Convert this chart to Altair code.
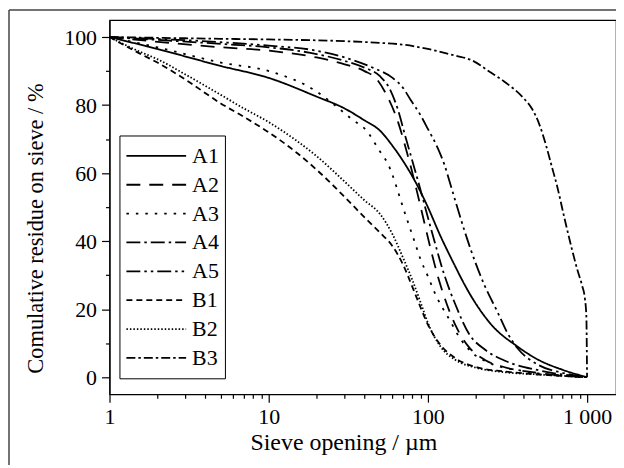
import altair as alt
import pandas as pd

# ---- data (sieve opening in µm, cumulative residue %) ----
A1_x = [1, 2, 5, 10, 20, 30, 40, 50, 60, 70, 80, 90, 100, 120, 140, 186, 250, 366, 500, 700, 1000]
A1_y = [100, 96.5, 91.5, 88, 82.5, 79, 75.5, 72.5, 68, 63.5, 59, 54.5, 50, 41.5, 35, 24, 15.5, 9, 5, 2.2, 0]

A2_x = [1, 5, 10, 20, 30, 40, 48, 55, 65, 72, 78, 85, 95, 105, 115, 125, 150, 180, 230, 300, 500, 1000]
A2_y = [100, 97, 96, 94, 92, 90, 87.5, 83, 75, 68, 62, 55, 45.5, 37, 30, 24.5, 15, 9, 5, 3, 1.2, 0]

A3_x = [1, 2, 5, 10, 20, 26, 33, 42, 49, 56, 72, 83, 90, 100, 110, 139, 160, 186, 250, 400, 1000]
A3_y = [100, 97, 92.5, 90, 84, 80, 76, 72, 67, 62.8, 48, 39.5, 34.6, 29.7, 25, 16.3, 11.3, 7.6, 4, 1.8, 0]

A4_x = [1, 5, 10, 20, 30, 40, 50, 58, 65, 72, 80, 90, 100, 110, 125, 150, 180, 230, 300, 500, 1000]
A4_y = [100, 98, 97, 95, 93, 91, 88.5, 84.5, 78.5, 71, 63.5, 55, 47, 40, 31, 21, 13, 8, 5, 2, 0]

A5_x = [1, 5, 10, 20, 30, 45, 60, 70, 78, 90, 100, 115, 127, 140, 154, 170, 186, 227, 275, 316, 366, 500, 700, 1000]
A5_y = [100, 98.5, 97.5, 96, 94, 91, 88, 85, 81.5, 77, 73, 67.5, 62.5, 56, 49.5, 43, 37.5, 27, 19, 13, 8.5, 3.5, 1.3, 0]

B1_x = [1, 1.5, 2, 3, 5, 7, 10, 15, 20, 30, 40, 50, 60, 70, 80, 90, 100, 120, 150, 200, 300, 500, 1000]
B1_y = [100, 95.5, 92.5, 87.5, 80.5, 76.5, 72, 66, 61, 53, 47, 42.5, 38.5, 33, 26.5, 20.5, 15.5, 9.5, 5.5, 3, 1.7, 0.8, 0]

B2_x = [1, 1.5, 2, 3, 5, 7, 10, 15, 20, 30, 40, 50, 60, 70, 80, 90, 100, 120, 150, 200, 300, 500, 1000]
B2_y = [100, 96, 93.5, 89, 83, 79, 75, 69.5, 65, 57.5, 52, 48, 42, 35, 28.5, 22, 16, 9, 5, 2.8, 1.5, 0.8, 0]

B3_x = [1, 5, 10, 30, 50, 72, 100, 150, 186, 250, 300, 400, 450, 500, 550, 600, 650, 715, 800, 870, 930, 970, 990, 1000]
B3_y = [100, 99.5, 99.3, 98.8, 98.3, 97.7, 96.5, 94.5, 93.3, 89.5, 87, 82, 79, 74.5, 68.5, 62, 56, 47.5, 38, 31.5, 27, 23, 18, 0]

series = ["A1", "A2", "A3", "A4", "A5", "B1", "B2", "B3"]
xs = [A1_x, A2_x, A3_x, A4_x, A5_x, B1_x, B2_x, B3_x]
ys = [A1_y, A2_y, A3_y, A4_y, A5_y, B1_y, B2_y, B3_y]

dashes = [[1, 0], [14, 9], [2.5, 7], [14, 4, 2.5, 4], [14, 4, 2.5, 4, 2.5, 4], [6, 4], [1.5, 2], [9, 3, 2.5, 3]]

rows = []
for name, xv, yv in zip(series, xs, ys):
    for a, b in zip(xv, yv):
        rows.append({"series": name, "size": a, "residue": b})
df = pd.DataFrame(rows)

FONT = "Liberation Serif"

x_ticks = [1, 2, 3, 4, 5, 6, 7, 8, 9, 10, 20, 30, 40, 50, 60, 70, 80, 90,
           100, 200, 300, 400, 500, 600, 700, 800, 900, 1000]
y_ticks = [0, 10, 20, 30, 40, 50, 60, 70, 80, 90, 100]

lines = alt.Chart(df).mark_line(color="black", strokeWidth=1.8, interpolate="monotone").encode(
    x=alt.X("size:Q",
            scale=alt.Scale(type="log", domain=[1, 1520], nice=False),
            axis=alt.Axis(
                title="Sieve opening / µm",
                values=x_ticks,
                labelExpr="datum.value == 1 ? '1' : datum.value == 10 ? '10' : datum.value == 100 ? '100' : datum.value == 1000 ? '1 000' : ''",
                tickSize={"condition": {"test": "indexof([1,10,100,1000], datum.value) >= 0", "value": 8}, "value": 4},
                labelFlush=False, labelOverlap=False,
                labelFont=FONT, titleFont=FONT, titleFontWeight="normal",
                labelFontSize=22, titleFontSize=24, labelPadding=4,
                titleX=235, titleAnchor="start", titleAlign="center", titlePadding=4,
                grid=False)),
    y=alt.Y("residue:Q",
            scale=alt.Scale(domain=[-5, 105], nice=False, zero=False),
            axis=alt.Axis(
                title="Comulative residue on sieve / %",
                values=y_ticks,
                labelExpr="datum.value % 20 == 0 ? datum.label : ''",
                tickSize={"condition": {"test": "datum.value % 20 == 0", "value": 8}, "value": 4},
                labelFlush=False, labelOverlap=False,
                labelFont=FONT, titleFont=FONT, titleFontWeight="normal",
                labelFontSize=22, titleFontSize=22.5, labelPadding=5, titlePadding=16,
                titleY=209, titleAnchor="start", titleAlign="center",
                grid=False)),
    strokeDash=alt.StrokeDash("series:N",
                              scale=alt.Scale(domain=series, range=dashes),
                              legend=alt.Legend(
                                  title=None, orient="none", legendX=10, legendY=116,
                                  symbolType="stroke", symbolSize=3600,
                                  symbolStrokeWidth=1.8, symbolStrokeColor="black",
                                  labelFontSize=22, labelFont=FONT, labelColor="black",
                                  labelOffset=5, strokeColor="black", fillColor="white",
                                  padding=6, clipHeight=29, rowPadding=0)),
    detail="series:N",
)

border_df = pd.DataFrame({"k": [0]})
left_border = alt.Chart(border_df).mark_rule(color="#444", strokeWidth=1.5).encode(
    x=alt.value(-101), y=alt.value(-10), y2=alt.value(470))
top_border = alt.Chart(border_df).mark_rule(color="#444", strokeWidth=1.5).encode(
    x=alt.value(-101), x2=alt.value(520), y=alt.value(-10))

chart = alt.layer(lines, left_border, top_border).properties(
    width=509, height=376,
    background="white",
    autosize=alt.AutoSizeParams(type="none"),
    padding={"left": 102, "top": 11, "right": 0, "bottom": 70},
).configure_view(stroke="black", strokeWidth=1.2).configure_axis(
    labelFont=FONT, titleFont=FONT, labelColor="black", titleColor="black",
    titleFontWeight="normal", domainColor="black", tickColor="black",
    domainWidth=1.2, tickWidth=1.2,
)

chart.save("out.html", embed_options={"renderer": "svg", "actions": False})
